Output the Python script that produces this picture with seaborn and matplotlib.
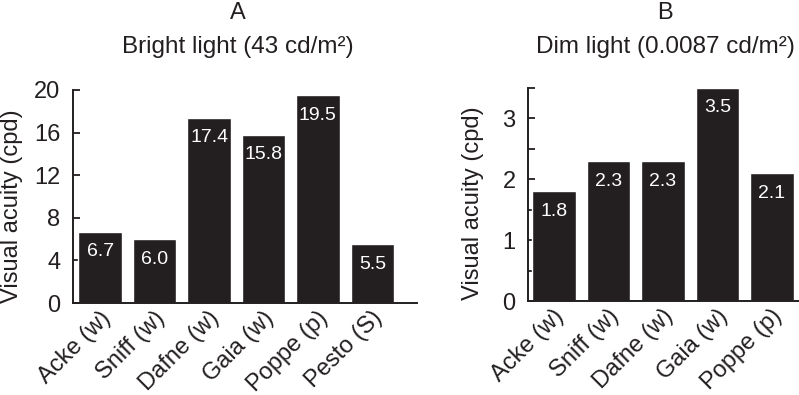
import matplotlib
matplotlib.use("Agg")
import matplotlib.pyplot as plt
import matplotlib.transforms as mtransforms
import seaborn as sns
import numpy as np
import pandas as pd

# Visual acuity per dog, bright vs dim light
bright_dogs = ["Acke (w)", "Sniff (w)", "Dafne (w)", "Gaia (w)", "Poppe (p)", "Pesto (S)"]
bright_acuity = [6.7, 6.0, 17.4, 15.8, 19.5, 5.5]
bright_ticks = [0, 4, 8, 12, 16, 20]

dim_dogs = ["Acke (w)", "Sniff (w)", "Dafne (w)", "Gaia (w)", "Poppe (p)"]
dim_acuity = [1.8, 2.3, 2.3, 3.5, 2.1]
dim_ticks = [0, 1, 2, 3]
dim_minor = [0.5, 1.5, 2.5, 3.5]

sns.set_style("ticks")
plt.rcParams['font.family'] = ['Liberation Sans', 'DejaVu Sans']
ink = "#231f20"

W, H = 799, 395
fig = plt.figure(figsize=(W / 100, H / 100), dpi=100)


def px_axes(left, right, bottom, top):
    return fig.add_axes([left / W, 1 - bottom / H, (right - left) / W, (bottom - top) / H])


def draw_panel(ax, dogs, vals, xlim, ylim, ticks, minor=None):
    df = pd.DataFrame({"dog": dogs, "acuity": vals})
    sns.barplot(data=df, x="dog", y="acuity", color=ink, saturation=1, width=0.8, ax=ax)
    ax.set_xlim(*xlim)
    ax.set_ylim(*ylim)
    ax.set_yticks(ticks)
    if minor is not None:
        ax.set_yticks(minor, minor=True)
    ax.set_xlabel("")
    ax.set_ylabel("")
    sns.despine(ax=ax)
    for s in ["left", "bottom"]:
        ax.spines[s].set_linewidth(1.4)
        ax.spines[s].set_color(ink)
    ax.tick_params(axis="y", which="both", direction="in", length=5, width=1.3,
                   colors=ink, labelsize=17, pad=9)
    ax.tick_params(axis="x", length=0, labelsize=17, colors=ink, pad=3)
    shift = mtransforms.ScaledTranslation(-0.01, 0, fig.dpi_scale_trans)
    for lbl in ax.get_xticklabels():
        lbl.set_rotation(45)
        lbl.set_ha("right")
        lbl.set_va("top")
        lbl.set_rotation_mode("anchor")
        lbl.set_transform(lbl.get_transform() + shift)
    for i, v in enumerate(vals):
        ax.annotate(f"{v:.1f}", (i, v), xytext=(0, -20), textcoords="offset pixels",
                    ha="center", va="center", color="white", fontsize=14)


axA = px_axes(73, 417, 303, 90)
draw_panel(axA, bright_dogs, bright_acuity, (-0.5, 5.82), (0, 20), bright_ticks)

axB = px_axes(528, 799, 301, 88)
draw_panel(axB, dim_dogs, dim_acuity, (-0.48, 4.5), (0, 3.5), dim_ticks, dim_minor)

# panel letters and titles
fig.text(238 / W, 1 - 13 / H, "A", ha="center", va="center", fontsize=17, color=ink)
fig.text(238 / W, 1 - 47 / H, "Bright light (43 cd/m²)", ha="center", va="center",
         fontsize=17.5, color=ink)
fig.text(665 / W, 1 - 13 / H, "B", ha="center", va="center", fontsize=17, color=ink)
fig.text(665 / W, 1 - 47 / H, "Dim light (0.0087 cd/m²)", ha="center", va="center",
         fontsize=17.5, color=ink)

fig.text(12 / W, 1 - 206 / H, "Visual acuity (cpd)", rotation=90, ha="center",
         va="center", fontsize=17, color=ink)
fig.text(473 / W, 1 - 203 / H, "Visual acuity (cpd)", rotation=90, ha="center",
         va="center", fontsize=17, color=ink)

fig.savefig("out.png", dpi=100)
